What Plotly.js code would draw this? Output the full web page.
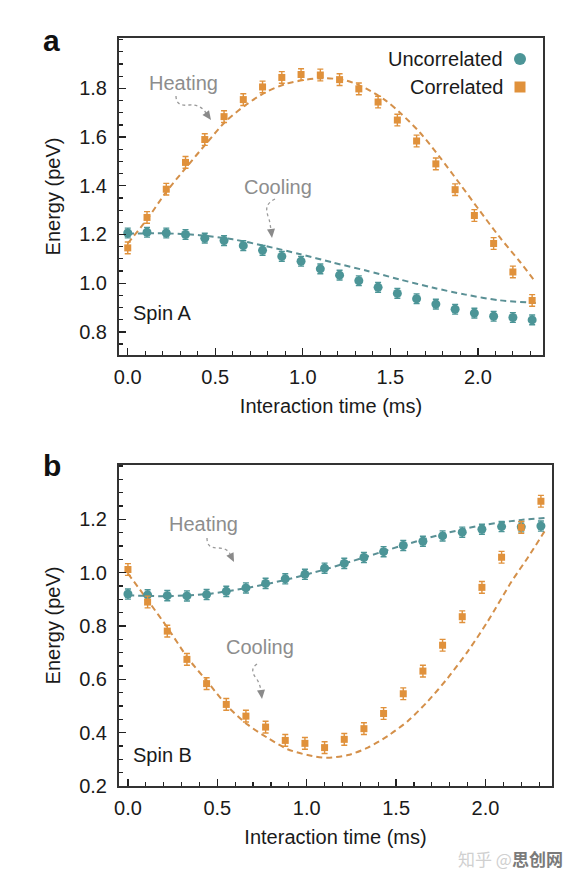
<!DOCTYPE html>
<html>
<head>
<meta charset="utf-8">
<script src="https://cdn.plot.ly/plotly-3.0.1.min.js"></script>
<style>
html,body{margin:0;padding:0;background:#fff;}
#chart{width:571px;height:876px;}
</style>
</head>
<body>
<div id="chart"></div>
<script>
// ---------- data ----------
const timeMs = [0.00,0.11,0.22,0.33,0.44,0.55,0.66,0.77,0.88,0.99,1.10,1.21,1.32,1.43,1.54,1.65,1.76,1.87,1.98,2.09,2.20,2.31];

// Panel a: Spin A
const spinAUncorr = [1.206,1.209,1.206,1.200,1.185,1.175,1.154,1.135,1.110,1.090,1.059,1.033,1.010,0.983,0.958,0.936,0.914,0.893,0.877,0.864,0.859,0.849];
const spinACorr   = [1.145,1.270,1.386,1.496,1.590,1.684,1.754,1.806,1.845,1.857,1.855,1.836,1.798,1.744,1.670,1.584,1.490,1.384,1.278,1.163,1.046,0.929];
const spinAErrUncorr = [0.020,0.020,0.020,0.020,0.020,0.020,0.020,0.020,0.020,0.020,0.020,0.020,0.020,0.020,0.020,0.020,0.020,0.020,0.020,0.020,0.020,0.020];
const spinAErrCorr   = [0.024,0.024,0.024,0.024,0.024,0.024,0.024,0.024,0.024,0.024,0.024,0.024,0.024,0.024,0.024,0.024,0.024,0.024,0.024,0.024,0.024,0.024];

const fitAUncorrT = [0.00,0.20,0.41,0.60,0.79,0.98,1.17,1.36,1.55,1.74,1.93,2.12,2.33];
const fitAUncorrE = [1.203,1.205,1.197,1.180,1.152,1.120,1.085,1.052,1.016,0.982,0.953,0.930,0.919];
const fitACorrT = [0.00,0.11,0.22,0.33,0.45,0.56,0.68,0.79,0.90,1.02,1.13,1.25,1.36,1.47,1.56,1.67,1.78,1.90,2.01,2.12,2.24,2.33];
const fitACorrE = [1.163,1.262,1.375,1.472,1.575,1.665,1.735,1.785,1.818,1.836,1.842,1.832,1.800,1.752,1.697,1.618,1.520,1.405,1.298,1.193,1.088,1.004];

// Panel b: Spin B
const spinBUncorr = [0.920,0.917,0.914,0.913,0.918,0.930,0.943,0.960,0.977,0.994,1.017,1.035,1.057,1.079,1.102,1.118,1.138,1.152,1.163,1.173,1.172,1.175];
const spinBCorr   = [1.012,0.890,0.781,0.675,0.584,0.506,0.462,0.421,0.371,0.360,0.344,0.375,0.415,0.472,0.546,0.631,0.728,0.835,0.945,1.058,1.170,1.268];
const spinBErrUncorr = [0.019,0.019,0.019,0.019,0.019,0.019,0.019,0.019,0.019,0.019,0.019,0.019,0.019,0.019,0.019,0.019,0.019,0.019,0.019,0.019,0.019,0.019];
const spinBErrCorr   = [0.022,0.022,0.022,0.022,0.022,0.022,0.022,0.022,0.022,0.022,0.022,0.022,0.022,0.022,0.022,0.022,0.022,0.022,0.022,0.022,0.022,0.022];

const fitBUncorrT = [0.00,0.22,0.44,0.66,0.88,1.10,1.32,1.54,1.76,1.98,2.20,2.33];
const fitBUncorrE = [0.915,0.912,0.920,0.942,0.973,1.012,1.057,1.103,1.145,1.178,1.198,1.205];
const fitBCorrT = [0.000,0.117,0.225,0.335,0.446,0.556,0.668,0.780,0.893,1.005,1.112,1.230,1.342,1.454,1.566,1.679,1.790,1.902,2.014,2.144,2.240,2.330];
const fitBCorrE = [0.997,0.891,0.790,0.680,0.590,0.500,0.431,0.381,0.338,0.316,0.306,0.316,0.344,0.388,0.444,0.519,0.606,0.706,0.819,0.965,1.060,1.155];

const seriesNames = ['Uncorrelated','Correlated'];
const xTickVals = [0,0.5,1.0,1.5,2.0];
const xTickText = ['0.0','0.5','1.0','1.5','2.0'];
const yTickValsA = [0.8,1.0,1.2,1.4,1.6,1.8];
const yTickTextA = ['0.8','1.0','1.2','1.4','1.6','1.8'];
const yTickValsB = [0.2,0.4,0.6,0.8,1.0,1.2];
const yTickTextB = ['0.2','0.4','0.6','0.8','1.0','1.2'];

// ---------- styling ----------
const W = 571, H = 876;
const TEAL = '#4c9597', ORANGE = '#e0913b';
const TEAL_LINE = '#5a9095', ORANGE_LINE = '#d4904a';
const FONT = '"Liberation Sans", Arial, Helvetica, sans-serif';
const FS = 20;
const px = x => x / W;
const py = y => 1 - y / H;

function fitTrace(t, e, color, xa, ya){
  return {x:t, y:e, xaxis:xa, yaxis:ya, mode:'lines', type:'scatter',
    line:{color:color, width:2, dash:'6px,4px', shape:'spline', smoothing:0.8},
    hoverinfo:'skip', showlegend:false};
}
function dataTrace(y, err, color, symbol, size, xa, ya, name){
  return {x:timeMs, y:y, xaxis:xa, yaxis:ya, mode:'markers', type:'scatter', name:name,
    marker:{color:color, symbol:symbol, size:size, line:{width:0}},
    error_y:{type:'data', array:err, visible:true, color:color, thickness:1.4, width:3},
    showlegend:false};
}

const traces = [
  fitTrace(fitAUncorrT, fitAUncorrE, TEAL_LINE, 'x', 'y'),
  fitTrace(fitACorrT, fitACorrE, ORANGE_LINE, 'x', 'y'),
  dataTrace(spinAUncorr, spinAErrUncorr, TEAL, 'circle', 9, 'x', 'y', seriesNames[0]),
  dataTrace(spinACorr, spinAErrCorr, ORANGE, 'square', 7, 'x', 'y', seriesNames[1]),
  fitTrace(fitBUncorrT, fitBUncorrE, TEAL_LINE, 'x2', 'y2'),
  fitTrace(fitBCorrT, fitBCorrE, ORANGE_LINE, 'x2', 'y2'),
  dataTrace(spinBUncorr, spinBErrUncorr, TEAL, 'circle', 9, 'x2', 'y2', seriesNames[0]),
  dataTrace(spinBCorr, spinBErrCorr, ORANGE, 'square', 7, 'x2', 'y2', seriesNames[1])
];

function xAxis(domain, anchor){
  return {domain:domain, anchor:anchor, range:[-0.05,2.372], tickvals:xTickVals, ticktext:xTickText,
    ticks:'inside', ticklen:7, tickwidth:1.3, tickcolor:'#222',
    minor:{dtick:0.1, tick0:0, ticks:'inside', ticklen:4, tickwidth:1.2, tickcolor:'#222'},
    showline:true, linecolor:'#333', linewidth:2, mirror:true, showgrid:false, zeroline:false,
    tickfont:{size:FS, color:'#1a1a1a', family:FONT}, ticklabelstandoff:3,
    title:{text:'Interaction time (ms)', font:{size:FS, color:'#1a1a1a', family:FONT}, standoff:12},
    automargin:false, fixedrange:true};
}
function yAxis(domain, anchor, range, tv, tt){
  return {domain:domain, anchor:anchor, range:range, tickvals:tv, ticktext:tt,
    ticks:'inside', ticklen:7, tickwidth:1.3, tickcolor:'#222',
    minor:{dtick:0.05, tick0:0, ticks:'inside', ticklen:4, tickwidth:1.2, tickcolor:'#222'},
    showline:true, linecolor:'#333', linewidth:2, mirror:true, showgrid:false, zeroline:false,
    tickfont:{size:FS, color:'#1a1a1a', family:FONT}, ticklabelstandoff:6,
    title:{text:'Energy (peV)', font:{size:FS, color:'#1a1a1a', family:FONT}, standoff:13},
    automargin:false, fixedrange:true};
}

const GRAY = '#8d8d8d';
function txt(x, y, text, opts){
  return Object.assign({xref:'paper', yref:'paper', x:px(x), y:py(y), text:text, showarrow:false,
    xanchor:'left', yanchor:'middle', font:{size:FS, color:'#1a1a1a', family:FONT}}, opts||{});
}

const annotations = [
  txt(41, 40, '<b>a</b>', {font:{size:30, color:'#111', family:FONT}}),
  txt(41, 465, '<b>b</b>', {font:{size:30, color:'#111', family:FONT}}),
  txt(505, 59, seriesNames[0], {xanchor:'right'}),
  txt(505, 87, seriesNames[1], {xanchor:'right'}),
  txt(147, 83, 'Heating', {font:{size:FS, color:GRAY, family:FONT}}),
  txt(242, 187, 'Cooling', {font:{size:FS, color:GRAY, family:FONT}}),
  txt(131, 313, 'Spin A'),
  txt(167, 524, 'Heating', {font:{size:FS, color:GRAY, family:FONT}}),
  txt(224, 647, 'Cooling', {font:{size:FS, color:GRAY, family:FONT}}),
  txt(131, 755, 'Spin B'),
  txt(565, 858, '<span style="color:#d0d0d0">知乎 @</span><b><span style="color:#7a7a7a">思创网</span></b>',
      {xanchor:'right', font:{size:17, color:'#aaa', family:'"Noto Sans CJK SC", sans-serif'}})
];

// curved dotted arrows (pixel coords -> paper)
function P(x, y){ return px(x).toFixed(5) + ',' + py(y).toFixed(5); }
function curvePath(pts){
  let s = 'M' + P(pts[0][0], pts[0][1]);
  for (let i = 1; i + 2 < pts.length; i += 3){
    s += ' C' + P(pts[i][0],pts[i][1]) + ' ' + P(pts[i+1][0],pts[i+1][1]) + ' ' + P(pts[i+2][0],pts[i+2][1]);
  }
  return s;
}
function headPath(from, tip){
  const dx = tip[0]-from[0], dy = tip[1]-from[1];
  const L = Math.hypot(dx, dy), ux = dx/L, uy = dy/L;
  const len = 9, hw = 4;
  const bx = tip[0]-ux*len, by = tip[1]-uy*len;
  return 'M' + P(tip[0],tip[1]) + ' L' + P(bx - uy*hw, by + ux*hw) + ' L' + P(bx + uy*hw, by - ux*hw) + ' Z';
}
const arrows = [
  {pts:[[176,96],[176,104],[181,106],[189,105],[197,104],[203,108],[206,113]], tip:[211,120]},
  {pts:[[275,199],[265,204],[266,210],[268,216],[270,221],[270,225],[271,229]], tip:[272,238]},
  {pts:[[207,538],[207,546],[211,548],[218,548],[225,548],[229,551],[230,554]], tip:[234,562]},
  {pts:[[257,664],[251,668],[252,673],[256,678],[259,682],[260,686],[261,690]], tip:[262,699]}
];
const shapes = [];
arrows.forEach(a => {
  shapes.push({type:'path', xref:'paper', yref:'paper', path:curvePath(a.pts),
    line:{color:'#9a9a9a', width:1.3, dash:'dot'}});
  shapes.push({type:'path', xref:'paper', yref:'paper', path:headPath(a.pts[a.pts.length-1], a.tip),
    fillcolor:'#8a8a8a', line:{width:0}});
});
// legend symbols
shapes.push({type:'circle', xref:'paper', yref:'paper', x0:px(514), x1:px(526), y0:py(65), y1:py(53),
  fillcolor:TEAL, line:{width:0}});
shapes.push({type:'rect', xref:'paper', yref:'paper', x0:px(514.5), x1:px(525.5), y0:py(92.5), y1:py(81.5),
  fillcolor:ORANGE, line:{width:0}});

const layout = {
  width:W, height:H, margin:{l:0, r:0, t:0, b:0},
  paper_bgcolor:'#fff', plot_bgcolor:'#fff',
  font:{family:FONT, color:'#1a1a1a'},
  showlegend:false,
  xaxis:xAxis([px(119), px(543)], 'y'),
  yaxis:yAxis([py(355), py(38)], 'x', [0.705, 2.007], yTickValsA, yTickTextA),
  xaxis2:xAxis([px(119), px(552)], 'y2'),
  yaxis2:yAxis([py(786), py(465)], 'x2', [0.2, 1.404], yTickValsB, yTickTextB),
  annotations:annotations,
  shapes:shapes
};

Plotly.newPlot('chart', traces, layout, {displayModeBar:false, staticPlot:true});
</script>
</body>
</html>
